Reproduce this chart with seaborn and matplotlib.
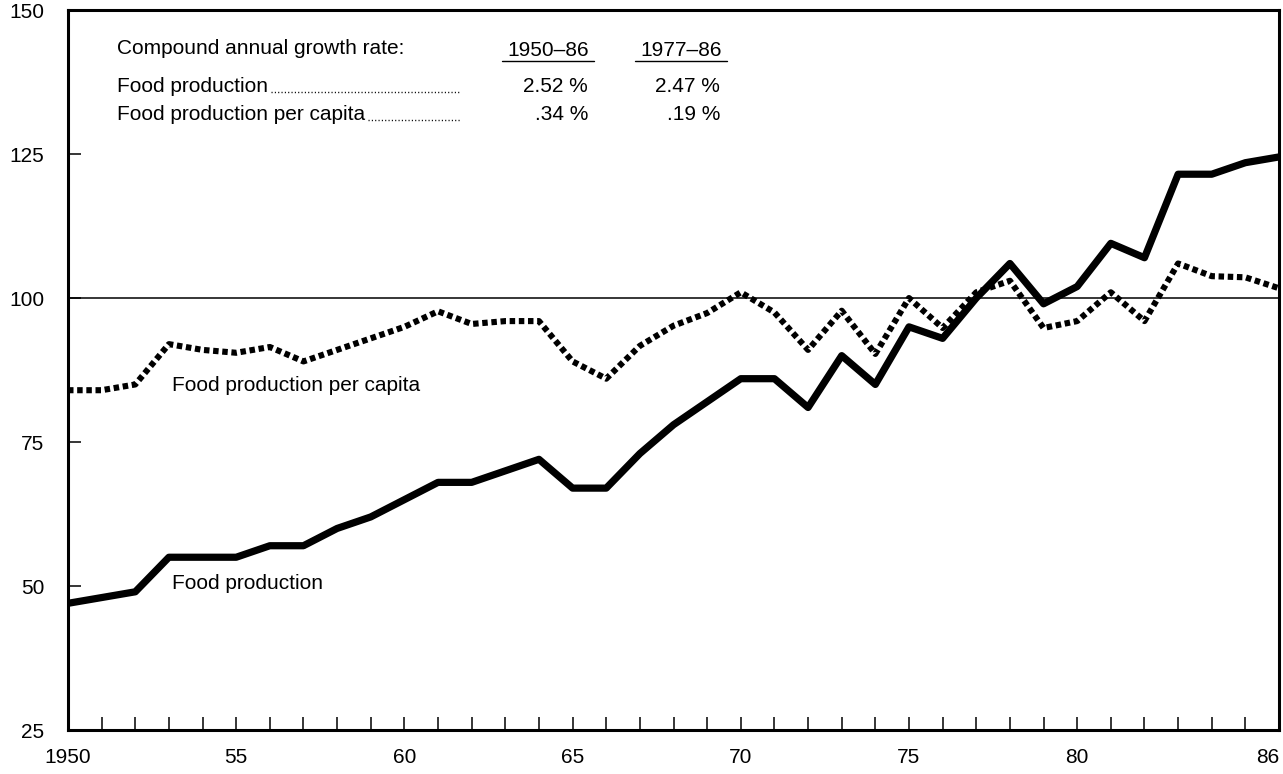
import matplotlib
matplotlib.use("Agg")
import matplotlib.pyplot as plt
import numpy as np
import pandas as pd
import seaborn as sns

# index values (1950-86)
years = list(range(1950, 1987))
food_production = [
    47, 48, 49, 55, 55, 55, 57, 57, 60, 62,
    65, 68, 68, 70, 72, 67, 67, 73, 78, 82,
    86, 86, 81, 90, 85, 95, 93, 100, 106, 99,
    102, 109.5, 107, 121.5, 121.5, 123.5, 124.5,
]
food_per_capita = [
    84, 84, 85, 92, 91, 90.5, 91.5, 89, 91, 93,
    95, 97.7, 95.5, 96, 96, 89, 86, 91.7, 95.2, 97.4,
    101, 97.5, 91, 97.8, 90.3, 100, 94.8, 101, 103, 94.8,
    96, 101, 96, 106, 103.8, 103.6, 101.7,
]

x_tick_labels = {1950: "1950", 1955: "55", 1960: "60", 1965: "65",
                 1970: "70", 1975: "75", 1980: "80", 1986: "86"}
y_ticks = [25, 50, 75, 100, 125, 150]

table_header = ["Compound annual growth rate:", "1950\u201386", "1977\u201386"]
table_rows = [
    ("Food production", "2.52 %", "2.47 %"),
    ("Food production per capita", ".34 %", ".19 %"),
]

sns.set_style("ticks")
plt.rcParams["font.family"] = ["Liberation Sans", "DejaVu Sans"]
plt.rcParams.update({
    "text.color": "black",
    "axes.labelcolor": "black",
    "xtick.color": "black",
    "ytick.color": "black",
})

df = pd.DataFrame({
    "year": years * 2,
    "value": food_production + food_per_capita,
    "series": ["Food production"] * len(years) + ["Food production per capita"] * len(years),
})

H = 774
fs = 15

fig = plt.figure(figsize=(12.83, 7.74), dpi=100)
ax = fig.add_axes([0.053, 0.0568, 0.9439, 0.9302])

ax.axhline(100, color="black", lw=1.1, zorder=1)

sns.lineplot(data=df[df["series"] == "Food production"], x="year", y="value",
             ax=ax, color="black", lw=5.2, legend=False, zorder=3)
sns.lineplot(data=df[df["series"] == "Food production per capita"], x="year", y="value",
             ax=ax, color="black", lw=4.4, legend=False, zorder=2)
ax.lines[-1].set_linestyle((0, (0.9, 0.6)))
ax.lines[-1].set_dash_capstyle("butt")

ax.set_xlim(1950, 1986)
ax.set_ylim(25, 150)
ax.set_xlabel("")
ax.set_ylabel("")

ax.set_xticks(years)
ax.set_xticklabels([x_tick_labels.get(y, "") for y in years])
ax.set_yticks(y_ticks)
ax.set_yticklabels([str(v) for v in y_ticks])
ax.tick_params(axis="x", direction="in", length=9.5, width=1.1, pad=13, labelsize=fs,
               colors="black")
ax.tick_params(axis="y", direction="in", length=9.5, width=1.1, pad=17, labelsize=fs,
               colors="black")
ax.get_xticklabels()[-1].set_horizontalalignment("right")

for side in ["left", "right", "top", "bottom"]:
    ax.spines[side].set_visible(True)
    ax.spines[side].set_linewidth(2.2)
    ax.spines[side].set_color("black")

# series labels
ax.text(1953.1, 84.8, "Food production per capita", fontsize=fs, va="center", ha="left")
ax.text(1953.1, 50.5, "Food production", fontsize=fs, va="center", ha="left")

# growth-rate table in the upper left
ax.text(117, H - 48, table_header[0], transform=None, fontsize=fs, va="center", ha="left")
for text, xc in [(table_header[1], 548), (table_header[2], 681)]:
    ax.text(xc, H - 50, text, transform=None, fontsize=fs, va="center", ha="center")
    ax.plot([xc - 46, xc + 46], [H - 61, H - 61], transform=None, color="black", lw=1.0)

row_y = [86, 114]
name_texts = []
for (name, v1, v2), ry in zip(table_rows, row_y):
    name_texts.append(ax.text(117, H - ry, name, transform=None, fontsize=fs, va="center", ha="left"))
    ax.text(588, H - ry, v1, transform=None, fontsize=fs, va="center", ha="right")
    ax.text(720, H - ry, v2, transform=None, fontsize=fs, va="center", ha="right")

# leader dots after the row names
fig.canvas.draw()
renderer = fig.canvas.get_renderer()
for t, ry in zip(name_texts, row_y):
    x_end = t.get_window_extent(renderer).x1
    ax.plot([x_end + 3, 460], [H - ry - 6, H - ry - 6], transform=None, color="black",
            lw=1.0, linestyle=(0, (0.8, 1.6)))

fig.savefig("out.png", dpi=100)
